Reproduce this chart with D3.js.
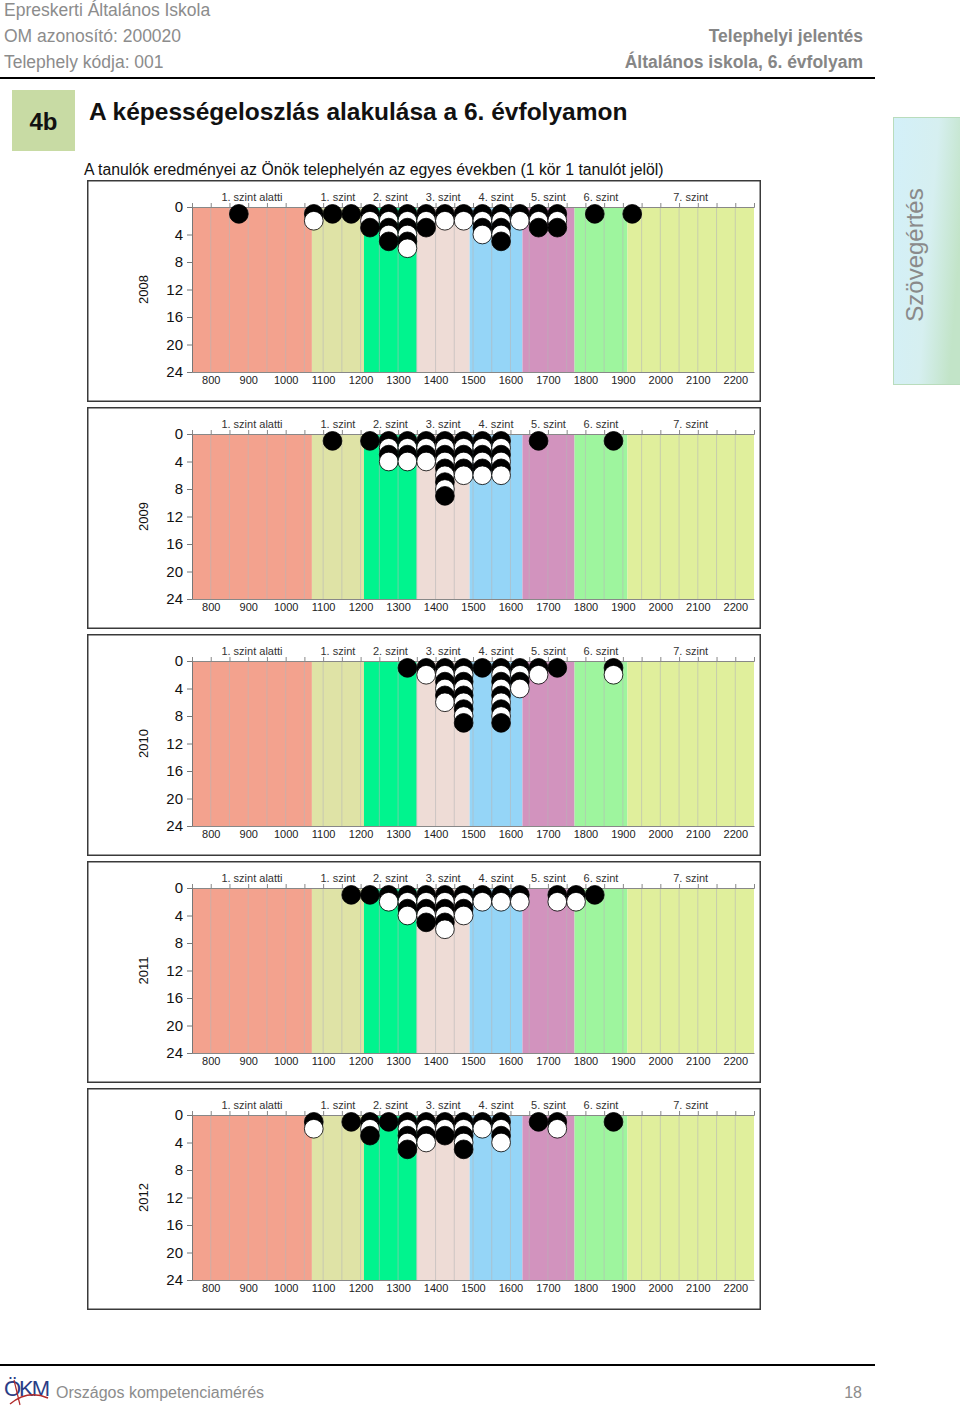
<!DOCTYPE html>
<html>
<head>
<meta charset="utf-8">
<script src="https://cdn.jsdelivr.net/npm/d3@7"></script>
<style>
  html, body { margin: 0; padding: 0; background: #fff; }
  svg text { font-family: "Liberation Sans", Arial, sans-serif; }
</style>
</head>
<body>
<div id="chart"></div>
<script>
// ---------------- DATA ----------------
const years = ["2008", "2009", "2010", "2011", "2012"];
const levelNames = ["1. szint alatti", "1. szint", "2. szint", "3. szint", "4. szint", "5. szint", "6. szint", "7. szint"];
const levelBounds = [750, 1070, 1209, 1350, 1491, 1632, 1771, 1912, 2250];
const levelColors = ["#f3a28e", "#dfe3a6", "#00f48e", "#eedcd6", "#95d5f7", "#d293be", "#9ef59e", "#e0ef9c"];
const xTickLabels = [800, 900, 1000, 1100, 1200, 1300, 1400, 1500, 1600, 1700, 1800, 1900, 2000, 2100, 2200];
const yTickLabels = [0, 4, 8, 12, 16, 20, 24];
// [bin centre score, number of students]
const counts2008 = [[875,1],[1075,2],[1125,1],[1175,1],[1225,3],[1275,5],[1325,6],[1375,3],[1425,2],[1475,2],[1525,4],[1575,5],[1625,2],[1675,3],[1725,3],[1825,1],[1925,1]];
const counts2009 = [[1125,1],[1225,1],[1275,4],[1325,4],[1375,4],[1425,9],[1475,6],[1525,6],[1575,6],[1675,1],[1875,1]];
const counts2010 = [[1325,1],[1375,2],[1425,6],[1475,9],[1525,1],[1575,9],[1625,4],[1675,2],[1725,1],[1875,2]];
const counts2011 = [[1175,1],[1225,1],[1275,2],[1325,4],[1375,5],[1425,6],[1475,4],[1525,2],[1575,2],[1625,2],[1725,2],[1775,2],[1825,1]];
const counts2012 = [[1075,2],[1175,1],[1225,3],[1275,1],[1325,5],[1375,4],[1425,3],[1475,5],[1525,2],[1575,4],[1675,1],[1725,2],[1875,1]];
const yearCounts = [counts2008, counts2009, counts2010, counts2011, counts2012];
const binWidth = 50;

// ---------------- PAGE ----------------
const W = 960, H = 1409;
const svg = d3.select("#chart").append("svg").attr("width", W).attr("height", H);

// header
const gray = "#8c8c8c";
const hdr = [["Epreskerti Általános Iskola", 16], ["OM azonosító: 200020", 42], ["Telephely kódja: 001", 68]];
hdr.forEach(([t, y]) => svg.append("text").attr("x", 4).attr("y", y).attr("font-size", 17.5).attr("fill", gray).text(t));
svg.append("text").attr("x", 863).attr("y", 42).attr("text-anchor", "end").attr("font-size", 17.5).attr("font-weight", "bold").attr("fill", "#868686").text("Telephelyi jelentés");
svg.append("text").attr("x", 863).attr("y", 68).attr("text-anchor", "end").attr("font-size", 17.5).attr("font-weight", "bold").attr("fill", "#868686").text("Általános iskola, 6. évfolyam");
svg.append("line").attr("x1", 0).attr("x2", 875).attr("y1", 78).attr("y2", 78).attr("stroke", "#000").attr("stroke-width", 2);

// title block
svg.append("rect").attr("x", 12).attr("y", 90).attr("width", 63).attr("height", 61).attr("fill", "#c8dba4");
svg.append("text").attr("x", 43.5).attr("y", 130).attr("text-anchor", "middle").attr("font-size", 24).attr("font-weight", "bold").attr("fill", "#111").text("4b");
svg.append("text").attr("x", 89).attr("y", 120).attr("font-size", 24.5).attr("font-weight", "bold").attr("fill", "#111").text("A képességeloszlás alakulása a 6. évfolyamon");
svg.append("text").attr("x", 84).attr("y", 175).attr("font-size", 15.8).attr("fill", "#111").text("A tanulók eredményei az Önök telephelyén az egyes években (1 kör 1 tanulót jelöl)");

// side tab
const defs = svg.append("defs");
const grad = defs.append("linearGradient").attr("id", "tabGrad").attr("x1", "0").attr("x2", "1").attr("y1", "0").attr("y2", "0.3");
grad.append("stop").attr("offset", "0").attr("stop-color", "#d3f0f9");
grad.append("stop").attr("offset", "0.6").attr("stop-color", "#d6eff0");
grad.append("stop").attr("offset", "1").attr("stop-color", "#c2e4c8");
svg.append("rect").attr("x", 893.5).attr("y", 117.5).attr("width", 70).attr("height", 267).attr("fill", "url(#tabGrad)").attr("stroke", "#b9dcbc").attr("stroke-width", 1);
svg.append("text").attr("transform", "translate(923,255) rotate(-90)").attr("text-anchor", "middle").attr("font-size", 24).attr("fill", "#8a8a8a").text("Szövegértés");

// footer
svg.append("line").attr("x1", 0).attr("x2", 875).attr("y1", 1365).attr("y2", 1365).attr("stroke", "#000").attr("stroke-width", 2);
svg.append("text").attr("x", 4).attr("y", 1396).attr("font-size", 22).attr("font-family", "DejaVu Serif, serif").attr("fill", "#2b3d86").attr("letter-spacing", -2).text("ÖKM");
svg.append("path").attr("d", "M10,1404 C22,1394 34,1392 48,1398").attr("fill", "none").attr("stroke", "#b22a2a").attr("stroke-width", 1.5);
svg.append("path").attr("d", "M14,1380 L20,1405").attr("fill", "none").attr("stroke", "#b22a2a").attr("stroke-width", 1.2);
svg.append("text").attr("x", 56).attr("y", 1398).attr("font-size", 16).attr("fill", gray).text("Országos kompetenciamérés");
svg.append("text").attr("x", 862).attr("y", 1398).attr("text-anchor", "end").attr("font-size", 16).attr("fill", gray).text("18");

// ---------------- CHARTS ----------------
const boxX = 87, boxW = 674, boxH = 222, boxTop0 = 180, boxStep = 227;
const plotL = 192, plotR = 754, plotT = 27, plotB = 192;

const x = d3.scaleLinear().domain([levelBounds[0], levelBounds[levelBounds.length - 1]]).range([plotL, plotR]);
const y = d3.scaleLinear().domain([0, 24]).range([plotT, plotB]);
const r = (x(binWidth) - x(0)) / 2;

years.forEach((yr, i) => {
  const g = svg.append("g").attr("transform", `translate(0,${boxTop0 + i * boxStep})`);
  g.append("rect").attr("x", boxX + 0.75).attr("y", 0.75).attr("width", boxW - 1.5).attr("height", boxH - 1.5)
    .attr("fill", "#fff").attr("stroke", "#3a3a3a").attr("stroke-width", 1.5);

  // level bands
  levelNames.forEach((name, k) => {
    g.append("rect").attr("x", x(levelBounds[k])).attr("y", plotT)
      .attr("width", x(levelBounds[k + 1]) - x(levelBounds[k])).attr("height", plotB - plotT)
      .attr("fill", levelColors[k]);
    g.append("text").attr("x", x((levelBounds[k] + levelBounds[k + 1]) / 2)).attr("y", plotT - 6)
      .attr("text-anchor", "middle").attr("font-size", 11).attr("fill", "#333").text(name);
  });

  // vertical grid lines every 50
  const gridVals = d3.range(800, 2201, 50);
  g.selectAll(".grid").data(gridVals).join("line")
    .attr("x1", d => x(d)).attr("x2", d => x(d)).attr("y1", plotT).attr("y2", plotB)
    .attr("stroke", "#b8b8b8").attr("stroke-opacity", 0.6).attr("stroke-width", 1);

  // top axis with ticks
  const topAxis = d3.axisTop(x).tickValues(d3.range(750, 2251, 50)).tickSize(4).tickFormat("");
  const ta = g.append("g").attr("transform", `translate(0,${plotT})`).call(topAxis);
  ta.selectAll("path,line").attr("stroke", "#888");

  // bottom tick labels
  const botAxis = d3.axisBottom(x).tickValues(xTickLabels).tickSize(0).tickPadding(4).tickFormat(d3.format("d"));
  const ba = g.append("g").attr("transform", `translate(0,${plotB})`).call(botAxis);
  ba.select(".domain").attr("stroke", "#888");
  ba.selectAll("text").attr("font-size", 11).attr("fill", "#222").attr("font-family", "Liberation Sans, Arial, sans-serif");

  // left axis
  const leftAxis = d3.axisLeft(y).tickValues(yTickLabels).tickSize(5).tickPadding(4);
  const la = g.append("g").attr("transform", `translate(${plotL},0)`).call(leftAxis);
  la.selectAll("path,line").attr("stroke", "#777");
  la.selectAll("text").attr("font-size", 15).attr("fill", "#111").attr("font-family", "Liberation Sans, Arial, sans-serif");

  // year label
  g.append("text").attr("transform", `translate(148,${(plotT + plotB) / 2}) rotate(-90)`)
    .attr("text-anchor", "middle").attr("font-size", 13).attr("fill", "#111").text(yr);

  // dots
  const dots = [];
  yearCounts[i].forEach(([score, n]) => {
    for (let j = 1; j <= n; j++) dots.push({ score, j });
  });
  g.selectAll(".dot").data(dots).join("circle")
    .attr("cx", d => x(d.score)).attr("cy", d => y(d.j)).attr("r", r)
    .attr("fill", d => d.j % 2 === 1 ? "#000" : "#fff")
    .attr("stroke", "#000").attr("stroke-width", 0.8);
});
</script>
</body>
</html>
